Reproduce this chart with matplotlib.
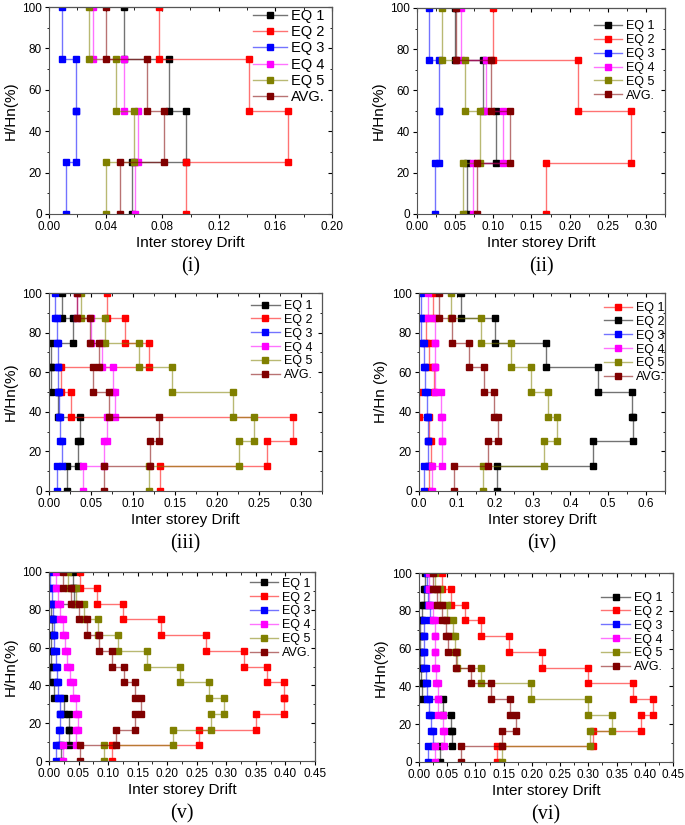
import numpy as np
import matplotlib
matplotlib.use('Agg')
import matplotlib.pyplot as plt
from matplotlib.colors import to_rgba
from matplotlib.ticker import MultipleLocator

plt.rcParams['font.family'] = ['Liberation Sans', 'DejaVu Sans']

# inter storey drift of each storey, bottom storey first
# (i) 4 storeys
p1_eq1 = [0.059, 0.097, 0.085, 0.053]
p1_eq2 = [0.097, 0.169, 0.141, 0.078]
p1_eq3 = [0.012, 0.019, 0.019, 0.009]
p1_eq4 = [0.061, 0.063, 0.053, 0.031]
p1_eq5 = [0.040, 0.060, 0.047, 0.028]
p1_avg = [0.050, 0.081, 0.069, 0.040]

# (ii) 4 storeys
p2_eq1 = [0.066, 0.103, 0.087, 0.050]
p2_eq2 = [0.169, 0.280, 0.211, 0.100]
p2_eq3 = [0.023, 0.029, 0.029, 0.016]
p2_eq4 = [0.073, 0.113, 0.090, 0.058]
p2_eq5 = [0.060, 0.082, 0.063, 0.033]
p2_avg = [0.078, 0.122, 0.097, 0.051]

# (iii) 8 storeys
p3_eq1 = [0.022, 0.035, 0.037, 0.011, 0.002, 0.002, 0.028, 0.016]
p3_eq2 = [0.132, 0.260, 0.291, 0.026, 0.014, 0.119, 0.091, 0.069]
p3_eq3 = [0.010, 0.015, 0.013, 0.012, 0.011, 0.011, 0.009, 0.007]
p3_eq4 = [0.041, 0.066, 0.069, 0.078, 0.076, 0.063, 0.050, 0.033]
p3_eq5 = [0.119, 0.226, 0.244, 0.219, 0.147, 0.107, 0.067, 0.038]
p3_avg = [0.065, 0.120, 0.131, 0.072, 0.052, 0.060, 0.049, 0.033]

# (iv) 8 storeys
p4_eq1 = [0.027, 0.032, 0.027, 0.001, 0.040, 0.026, 0.019, 0.037]
p4_eq2 = [0.205, 0.460, 0.566, 0.563, 0.472, 0.335, 0.200, 0.110]
p4_eq3 = [0.014, 0.023, 0.023, 0.021, 0.015, 0.012, 0.005, 0.005]
p4_eq4 = [0.035, 0.060, 0.062, 0.057, 0.042, 0.041, 0.042, 0.025]
p4_eq5 = [0.169, 0.330, 0.364, 0.342, 0.295, 0.244, 0.164, 0.085]
p4_avg = [0.093, 0.181, 0.208, 0.197, 0.173, 0.133, 0.087, 0.053]

# (v) 12 storeys
p5_eq1 = [0.020, 0.033, 0.034, 0.025, 0.008, 0.001, 0.003, 0.004, 0.005, 0.004, 0.043, 0.040]
p5_eq2 = [0.107, 0.254, 0.350, 0.397, 0.397, 0.369, 0.330, 0.265, 0.190, 0.125, 0.082, 0.052]
p5_eq3 = [0.011, 0.017, 0.018, 0.018, 0.015, 0.013, 0.011, 0.009, 0.008, 0.006, 0.005, 0.002]
p5_eq4 = [0.024, 0.046, 0.049, 0.046, 0.040, 0.035, 0.030, 0.027, 0.023, 0.019, 0.015, 0.011]
p5_eq5 = [0.093, 0.209, 0.274, 0.296, 0.271, 0.221, 0.166, 0.117, 0.083, 0.060, 0.045, 0.032]
p5_avg = [0.052, 0.113, 0.145, 0.156, 0.145, 0.127, 0.107, 0.084, 0.065, 0.050, 0.037, 0.024]

# (vi) 12 storeys
p6_eq1 = [0.037, 0.059, 0.057, 0.043, 0.006, 0.003, 0.002, 0.002, 0.002, 0.005, 0.008, 0.010]
p6_eq2 = [0.139, 0.308, 0.393, 0.415, 0.379, 0.299, 0.218, 0.159, 0.109, 0.081, 0.056, 0.041]
p6_eq3 = [0.016, 0.024, 0.022, 0.017, 0.015, 0.013, 0.009, 0.009, 0.009, 0.020, 0.016, 0.015]
p6_eq4 = [0.028, 0.045, 0.042, 0.034, 0.033, 0.031, 0.029, 0.029, 0.028, 0.024, 0.017, 0.018]
p6_eq5 = [0.147, 0.303, 0.342, 0.299, 0.199, 0.109, 0.068, 0.064, 0.061, 0.049, 0.037, 0.029]
p6_avg = [0.074, 0.147, 0.171, 0.161, 0.128, 0.092, 0.066, 0.052, 0.048, 0.040, 0.032, 0.024]

labels = ['EQ 1', 'EQ 2', 'EQ 3', 'EQ 4', 'EQ 5', 'AVG.']
colors = ['#000000', '#ff0000', '#0000ff', '#ff00ff', '#808000', '#800000']
colors_iv = ['#ff0000', '#000000', '#0000ff', '#ff00ff', '#808000', '#800000']

panels = [
    dict(data=[p1_eq1, p1_eq2, p1_eq3, p1_eq4, p1_eq5, p1_avg], colors=colors,
         rect=[49, 7, 332, 214], xmax=0.20, major=0.04, minor=0.02, fmt='%.2f',
         ylabel='H/Hn(%)', name='(i)', leg=(0.975, 0.99), lfs=10.5),
    dict(data=[p2_eq1, p2_eq2, p2_eq3, p2_eq4, p2_eq5, p2_avg], colors=colors,
         rect=[417, 8, 665, 214], xmax=0.325, major=0.05, minor=0.025, fmt='%.2f',
         ylabel='H/Hn(%)', name='(ii)', leg=(0.96, 0.94), lfs=9),
    dict(data=[p3_eq1, p3_eq2, p3_eq3, p3_eq4, p3_eq5, p3_avg], colors=colors,
         rect=[49, 293, 322, 491], xmax=0.325, major=0.05, minor=0.025, fmt='%.2f',
         ylabel='H/Hn(%)', name='(iii)', leg=(0.965, 0.965), lfs=9),
    dict(data=[p4_eq1, p4_eq2, p4_eq3, p4_eq4, p4_eq5, p4_avg], colors=colors_iv,
         rect=[419, 293, 665, 491], xmax=0.65, major=0.1, minor=0.05, fmt='%.1f',
         ylabel='H/Hn (%)', name='(iv)', leg=(1.0, 0.955), lfs=9),
    dict(data=[p5_eq1, p5_eq2, p5_eq3, p5_eq4, p5_eq5, p5_avg], colors=colors,
         rect=[49, 572, 315, 761], xmax=0.45, major=0.05, minor=0.025, fmt='%.2f',
         ylabel='H/Hn(%)', name='(v)', leg=(0.985, 0.97), lfs=9),
    dict(data=[p6_eq1, p6_eq2, p6_eq3, p6_eq4, p6_eq5, p6_avg], colors=colors,
         rect=[419, 573, 673, 762], xmax=0.45, major=0.05, minor=0.025, fmt='%.2f',
         ylabel='H/Hn(%)', name='(vi)', leg=(0.96, 0.90), lfs=9),
]

W, H = 685, 825
fig = plt.figure(figsize=(W / 100, H / 100), dpi=100)

for p in panels:
    x0, y0, x1, y1 = p['rect']
    ax = fig.add_axes([x0 / W, 1 - y1 / H, (x1 - x0) / W, (y1 - y0) / H])
    for d, c, lab in zip(p['data'], p['colors'], labels):
        n = len(d)
        levels = np.linspace(0, 100, n + 1)
        xs = np.repeat(d, 2)
        ys = np.column_stack([levels[:-1], levels[1:]]).ravel()
        ax.plot(xs, ys, '-s', color=to_rgba(c, 0.55), mfc=c, mec=c, ms=4.0,
                lw=1.0, label=lab)
    ax.set_xlim(0, p['xmax'])
    ax.set_ylim(0, 100)
    ax.xaxis.set_major_locator(MultipleLocator(p['major']))
    ax.xaxis.set_minor_locator(MultipleLocator(p['minor']))
    ax.yaxis.set_major_locator(MultipleLocator(20))
    ax.yaxis.set_minor_locator(MultipleLocator(10))
    ax.xaxis.set_major_formatter(plt.FormatStrFormatter(p['fmt']))
    ax.tick_params(which='both', direction='out', labelsize=8.5, pad=2)
    ax.tick_params(which='major', length=3)
    ax.tick_params(which='minor', length=1.8)
    for sp in ax.spines.values():
        sp.set_color('#555555')
    # mirrored inward ticks on top and right
    top = ax.secondary_xaxis('top')
    top.xaxis.set_major_locator(MultipleLocator(p['major']))
    top.xaxis.set_minor_locator(MultipleLocator(p['minor']))
    top.tick_params(which='both', direction='in', labeltop=False)
    top.tick_params(which='major', length=3)
    top.tick_params(which='minor', length=1.8)
    right = ax.secondary_yaxis('right')
    right.yaxis.set_major_locator(MultipleLocator(20))
    right.yaxis.set_minor_locator(MultipleLocator(10))
    right.tick_params(which='both', direction='in', labelright=False)
    right.tick_params(which='major', length=3)
    right.tick_params(which='minor', length=1.8)

    ax.set_xlabel('Inter storey Drift', fontsize=11, labelpad=2)
    ax.set_ylabel(p['ylabel'], fontsize=11, labelpad=3)
    ax.legend(loc='upper right', bbox_to_anchor=p['leg'], frameon=False,
              fontsize=p['lfs'], handlelength=2.3, handletextpad=0.3,
              labelspacing=0.15, borderaxespad=0, borderpad=0, numpoints=1)

    cx = (x0 + x1) / 2
    fig.text(cx / W, 1 - (y1 + 53) / H, p['name'], ha='center', va='center',
             fontsize=14.5, family=['Liberation Serif', 'DejaVu Serif'])

fig.savefig('out.png', dpi=100)
